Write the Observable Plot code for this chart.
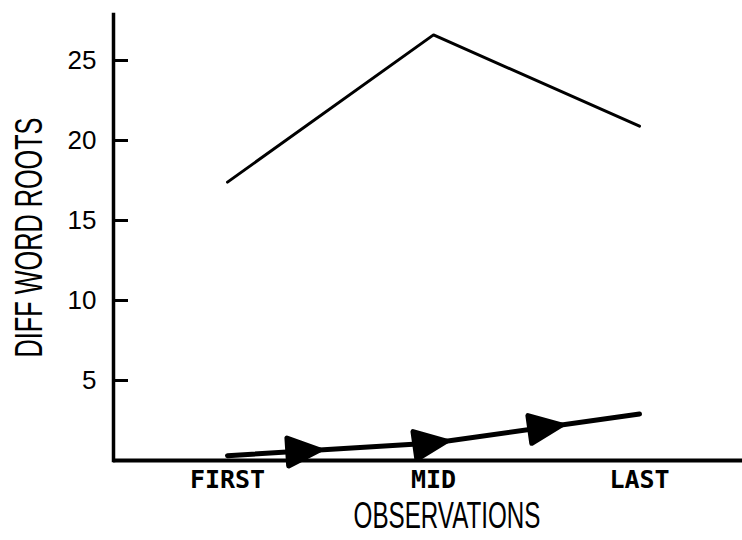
<!DOCTYPE html>
<html><head><meta charset="utf-8">
<script src="https://cdn.jsdelivr.net/npm/d3@7"></script>
<script src="https://cdn.jsdelivr.net/npm/@observablehq/plot@0.6"></script>
<style>body{margin:0;background:#fff}</style>
</head><body><div id="chart"></div>
<script>
const observations = ["FIRST", "MID", "LAST"];
const upperSeries = [17.4, 26.6, 20.9];
const lowerSeries = [0.3, 1.1, 2.9];
const yTicks = [5, 10, 15, 20, 25];
const yLabel = "DIFF WORD ROOTS";
const xLabel = "OBSERVATIONS";

const upper = observations.map((o, i) => ({obs: o, v: upperSeries[i]}));
const lower = observations.map((o, i) => ({obs: o, v: lowerSeries[i]}));

const chart = Plot.plot({
  width: 742, height: 540,
  marginLeft: 113, marginRight: 0, marginTop: 14, marginBottom: 80,
  style: {background: "#fff", color: "#000", overflow: "visible"},
  x: {type: "point", domain: observations, range: [226, 639], padding: 0, label: null},
  y: {domain: [0, 27.875], label: null},
  marks: [
    Plot.axisY({ticks: yTicks, tickSize: 0, tickPadding: 17, fontSize: 26, fontFamily: "'Liberation Sans', Arial, sans-serif", label: null}),
    Plot.axisY({ticks: yTicks, tickSize: -15, tickFormat: () => "", strokeWidth: 3, label: null}),
    Plot.axisX({tickSize: 0, tickPadding: 10, fontSize: 25, fontWeight: "bold", fontFamily: "'DejaVu Sans Mono', monospace", label: null}),
    Plot.ruleY([0], {strokeWidth: 4}),
    Plot.frame({anchor: "left", strokeWidth: 3.5}),
    Plot.line(upper, {x: "obs", y: "v", strokeWidth: 3}),
    Plot.line(lower, {x: "obs", y: "v", strokeWidth: 5}),
    Plot.text([yLabel], {frameAnchor: "left", textAnchor: "middle", lineAnchor: "middle", dx: -84, rotate: -90, fontSize: 38, fontFamily: "'Liberation Sans', Arial, sans-serif", className: "ylab"}),
    Plot.text([xLabel], {frameAnchor: "bottom", textAnchor: "middle", lineAnchor: "middle", dx: 19, dy: 56, fontSize: 36, fontFamily: "'Liberation Sans', Arial, sans-serif", className: "xlab"})
  ]
});
document.getElementById("chart").appendChild(chart);

// condense axis titles horizontally (along the text direction)
function condense(sel, target) {
  const t = chart.querySelector(sel);
  if (!t) return;
  const len = t.getComputedTextLength();
  const bb = t.getBBox();
  const cx = bb.x + bb.width / 2, cy = bb.y + bb.height / 2;
  const k = target / len;
  const prev = t.getAttribute("transform") || "";
  t.setAttribute("transform", `${prev} translate(${cx},${cy}) scale(${k},1) translate(${-cx},${-cy})`);
}
condense(".ylab text", 240);
condense(".xlab text", 187);

// arrowheads along the lower line
const lines = chart.querySelectorAll('g[aria-label="line"]');
const lowerG = lines[lines.length - 1];
const path = lowerG.querySelector("path");
const L = path.getTotalLength();
const ns = "http://www.w3.org/2000/svg";
[0.223, 0.53, 0.81].forEach(f => {
  const p = path.getPointAtLength(f * L);
  const q = path.getPointAtLength(Math.max(0, f * L - 2));
  const ang = Math.atan2(p.y - q.y, p.x - q.x) * 180 / Math.PI;
  const poly = document.createElementNS(ns, "polygon");
  poly.setAttribute("points", "0,0 -32,-14 -32,14");
  poly.setAttribute("fill", "#000");
  poly.setAttribute("transform", `translate(${p.x},${p.y}) rotate(${ang})`);
  lowerG.appendChild(poly);
});
</script>
</body></html>
